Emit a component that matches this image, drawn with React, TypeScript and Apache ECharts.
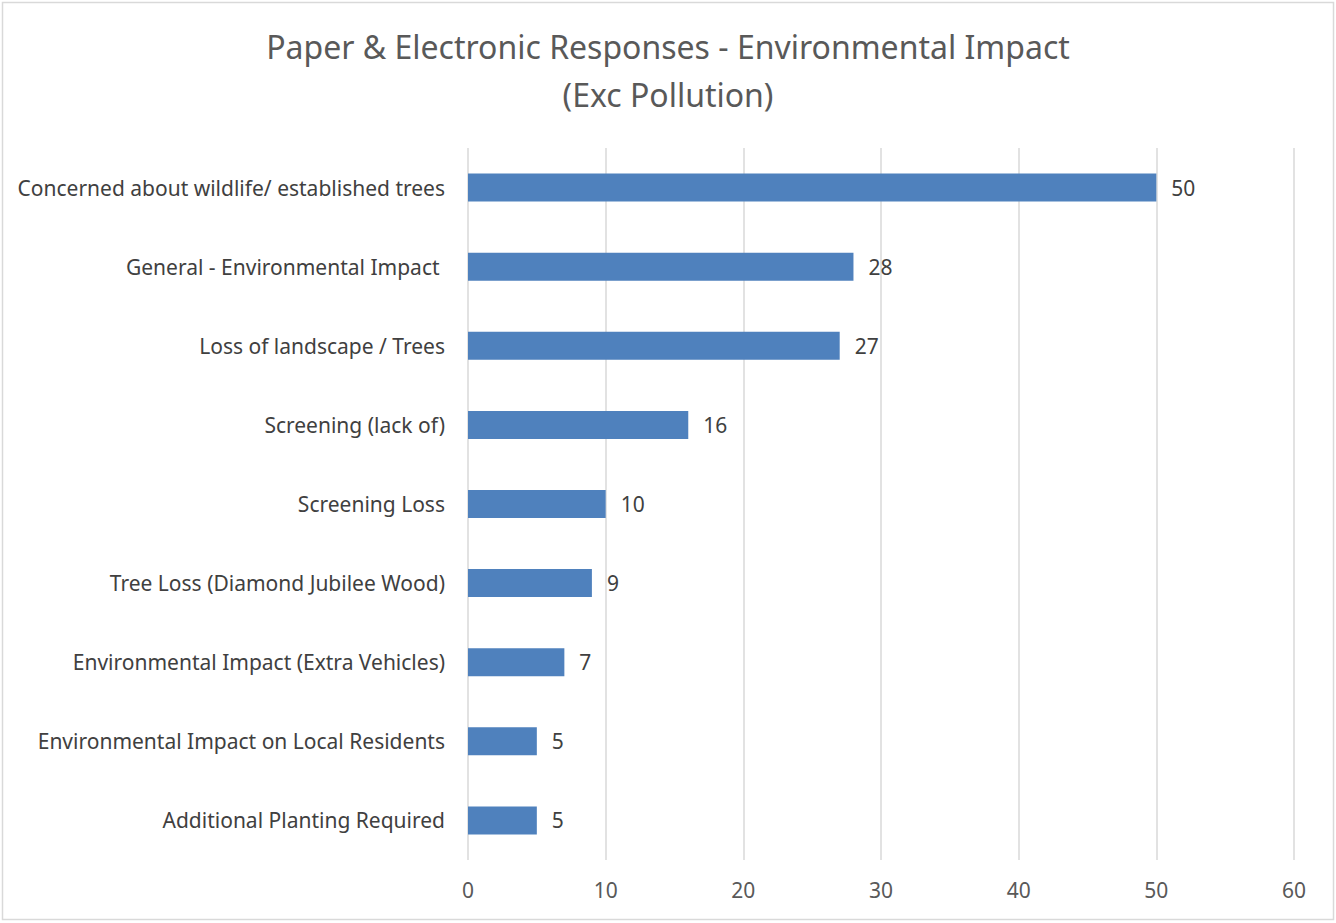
import React, { useEffect, useRef } from "react";
import * as echarts from "echarts";

const categories = [
  "Concerned about wildlife/ established trees",
  "General - Environmental Impact ",
  "Loss of landscape / Trees",
  "Screening (lack of)",
  "Screening Loss",
  "Tree Loss (Diamond Jubilee Wood)",
  "Environmental Impact (Extra Vehicles)",
  "Environmental Impact on Local Residents",
  "Additional Planting Required",
];
const values = [50, 28, 27, 16, 10, 9, 7, 5, 5];
const titleLines = ["Paper & Electronic Responses - Environmental Impact", "(Exc Pollution)"];

const FONT = "'Noto Sans', 'Open Sans', sans-serif";

export default function App() {
  const ref = useRef<HTMLDivElement>(null);
  useEffect(() => {
    if (!ref.current) return;
    const chart = echarts.init(ref.current, undefined, { renderer: "svg" });
    chart.setOption({
      animation: false,
      backgroundColor: "#ffffff",
      textStyle: { fontFamily: FONT },
      title: {
        text: titleLines.join("\n"),
        left: "center",
        top: 17,
        textStyle: {
          fontFamily: FONT,
          fontSize: 32,
          fontWeight: "normal",
          color: "#595959",
          lineHeight: 48,
        },
      },
      graphic: [
        {
          type: "rect",
          shape: { x: 2.5, y: 2.5, width: 1331, height: 917 },
          style: { fill: "none", stroke: "#D9D9D9", lineWidth: 1.5 },
          silent: true,
        },
      ],
      grid: { left: 468, right: 42, top: 148, bottom: 63, containLabel: false },
      xAxis: {
        type: "value",
        min: 0,
        max: 60,
        interval: 10,
        axisLine: { show: false },
        axisTick: { show: false },
        axisLabel: { fontSize: 21, color: "#595959", margin: 19, fontFamily: FONT },
        splitLine: { show: true, lineStyle: { color: "#D9D9D9", width: 1.5 } },
      },
      yAxis: {
        type: "category",
        inverse: true,
        data: categories,
        axisLine: { show: false },
        axisTick: { show: false },
        axisLabel: { fontSize: 21, color: "#404040", margin: 23, fontFamily: FONT },
      },
      series: [
        {
          type: "bar",
          data: values,
          barWidth: 28,
          itemStyle: { color: "#4F81BD" },
          label: {
            show: true,
            position: "right",
            distance: 15,
            fontSize: 21,
            color: "#404040",
            fontFamily: FONT,
          },
        },
      ],
    });
    return () => chart.dispose();
  }, []);
  return (
    <div
      ref={ref}
      style={{ position: "fixed", left: 0, top: 0, width: 1336, height: 923 }}
    />
  );
}
